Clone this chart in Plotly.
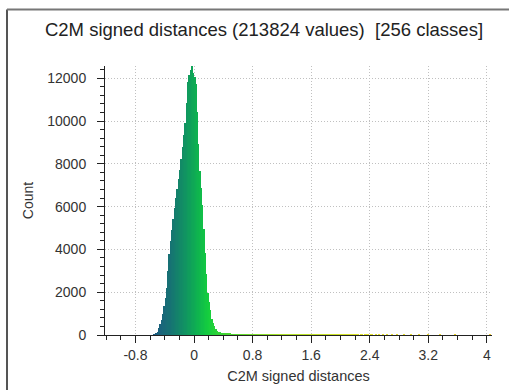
import plotly.graph_objects as go

title_text = "C2M signed distances (213824 values)  [256 classes]"
x_title = "C2M signed distances"
y_title = "Count"

data_min = -0.558
data_max = 4.05
n_classes = 256

counts_main = [
    10, 30, 60, 150, 320, 500, 680, 990, 1350, 1720,
    2180, 2980, 3780, 4380, 4900, 5420, 5940, 6400, 6840, 7280,
    7730, 8220, 8780, 9340, 9900, 10830, 11830, 12170, 12370, 12570,
    12250, 12050, 11710, 10430, 8910, 7650, 6870, 6090, 4970, 3840,
    2870, 1960, 1560, 1160, 770, 580, 440, 300, 190, 150,
    120,
]
counts_tail = [
    100, 90, 80, 72, 65, 58, 52, 47, 43, 40,
    37, 35, 33, 31, 29, 27, 26, 24, 23, 22,
    21, 20, 19, 18, 17, 16, 15, 15, 14, 13,
    13, 12, 12, 11, 11, 10, 10, 9, 9, 9,
    8, 8, 8, 7, 7, 7, 6, 6, 6, 6,
    5, 5, 5, 5, 5, 4, 4, 4, 4, 4,
    4, 3, 3, 3, 3, 3, 3, 3, 2, 2,
    2, 2, 2, 2, 2, 2, 2, 2, 2, 1,
    1, 1, 1, 1, 1, 1, 1, 1, 1, 1,
    1, 1, 1, 1, 1, 1, 1, 1, 1, 1,
    1, 1, 1, 1, 1, 0, 1, 1, 0, 1,
    1, 0, 1, 0, 1, 1, 0, 0, 1, 0,
    1, 0, 0, 1, 0, 0, 1, 0, 0, 0,
    1, 0, 0, 0, 1, 0, 0, 0, 0, 1,
    0, 0, 0, 0, 1, 0, 0, 0, 0, 0,
    1, 0, 0, 0, 0, 0, 0, 1, 0, 0,
    0, 0, 0, 0, 0, 0, 1, 0, 0, 0,
    0, 0, 0, 0, 0, 0, 0, 0, 1, 0,
    0, 0, 0, 0, 0, 0, 0, 0, 0, 0,
    0, 0, 0, 0, 0, 0, 0, 0, 0, 0,
    0, 0, 0, 0, 1,
]
counts = counts_main + counts_tail

x_tickvals = [-0.8, 0, 0.8, 1.6, 2.4, 3.2, 4]
x_ticktext = ["-0.8", "0", "0.8", "1.6", "2.4", "3.2", "4"]
y_tickvals = [0, 2000, 4000, 6000, 8000, 10000, 12000]
y_ticktext = ["0", "2000", "4000", "6000", "8000", "10000", "12000"]

# bin geometry from the class count and data range
bin_w = (data_max - data_min) / n_classes
centers = [data_min + bin_w * (i + 0.5) for i in range(len(counts))]

# colour ramp along x (blue -> green -> yellow)
stops = [
    (-0.56, (30, 88, 130)),
    (-0.30, (22, 116, 114)),
    (-0.10, (16, 150, 96)),
    (0.05, (14, 178, 80)),
    (0.20, (20, 206, 62)),
    (0.45, (70, 214, 50)),
    (1.2, (170, 224, 40)),
    (2.4, (225, 225, 40)),
    (4.1, (235, 200, 40)),
]


def ramp(v):
    if v <= stops[0][0]:
        c = stops[0][1]
    elif v >= stops[-1][0]:
        c = stops[-1][1]
    else:
        for (a, ca), (b, cb) in zip(stops[:-1], stops[1:]):
            if a <= v <= b:
                t = (v - a) / (b - a)
                c = tuple(int(round(ca[k] + t * (cb[k] - ca[k]))) for k in range(3))
                break
    return "rgb(%d,%d,%d)" % c


colors = [ramp(c) for c in centers]

fig = go.Figure(
    go.Bar(
        x=centers,
        y=counts,
        width=bin_w,
        marker=dict(color=colors, line=dict(width=0)),
        hoverinfo="x+y",
    )
)

L, R, T, B = 105, 17, 66, 55
W, H = 509, 390
pw, ph = W - L - R, H - T - B

font_family = "Liberation Sans, Arial, sans-serif"
grid_col = "#c0c0c0"
axis_col = "#222222"
txt_col = "#333333"

fig.update_layout(
    width=W,
    height=H,
    margin=dict(l=L, r=R, t=T, b=B, pad=0, autoexpand=False),
    paper_bgcolor="white",
    plot_bgcolor="white",
    bargap=0,
    showlegend=False,
    font=dict(family=font_family, size=14, color=txt_col),
    title=dict(
        text=title_text,
        x=264 / W,
        xanchor="center",
        xref="container",
        yref="container",
        y=1 - 30 / H,
        yanchor="middle",
        font=dict(family=font_family, size=18.5, color="#222222"),
    ),
    xaxis=dict(
        range=[-1.216, 4.07],
        automargin=False,
        tickmode="array",
        tickvals=x_tickvals,
        ticktext=x_ticktext,
        ticks="outside",
        ticklen=7,
        tickwidth=1,
        tickcolor=axis_col,
        showline=True,
        linecolor=axis_col,
        linewidth=1,
        showgrid=True,
        gridcolor=grid_col,
        griddash="1px,2px",
        gridwidth=1,
        zeroline=False,
        tickfont=dict(size=14, color=txt_col),
        title=dict(text=x_title, font=dict(size=14.5, color=txt_col), standoff=9),
        minor=dict(dtick=0.2, tick0=0, ticks="outside", ticklen=4, tickcolor=axis_col, showgrid=False),
    ),
    yaxis=dict(
        range=[0, 12570],
        automargin=False,
        tickmode="array",
        tickvals=y_tickvals,
        ticktext=y_ticktext,
        ticks="outside",
        ticklen=7,
        tickwidth=1,
        ticklabelstandoff=8,
        tickcolor=axis_col,
        showline=True,
        linecolor=axis_col,
        linewidth=1,
        showgrid=True,
        gridcolor=grid_col,
        griddash="1px,2px",
        gridwidth=1,
        zeroline=False,
        tickfont=dict(size=14, color=txt_col),
        title=dict(text=y_title, font=dict(size=14, color=txt_col), standoff=10),
        minor=dict(dtick=400, tick0=0, ticks="outside", ticklen=4, tickcolor=axis_col, showgrid=False),
    ),
)

# window frame lines (left and top edges)
fig.add_shape(type="line", xref="paper", yref="paper",
              x0=(7 - L) / pw, x1=(7 - L) / pw, y0=-B / ph, y1=(H - B - 9.5) / ph,
              line=dict(color="#555555", width=2))
fig.add_shape(type="line", xref="paper", yref="paper",
              x0=(7 - L) / pw, x1=(W + 4 - L) / pw, y0=(H - B - 9.5) / ph, y1=(H - B - 9.5) / ph,
              line=dict(color="#777777", width=2))

fig.write_html(
    "out.html",
    config={"displayModeBar": False},
    post_script=(
        "var s=document.createElement('style');"
        "s.textContent='html,body{margin:0;padding:0;overflow:hidden;scrollbar-width:none;}"
        "::-webkit-scrollbar{display:none;width:0;height:0;}';"
        "document.head.appendChild(s);"
    ),
)
